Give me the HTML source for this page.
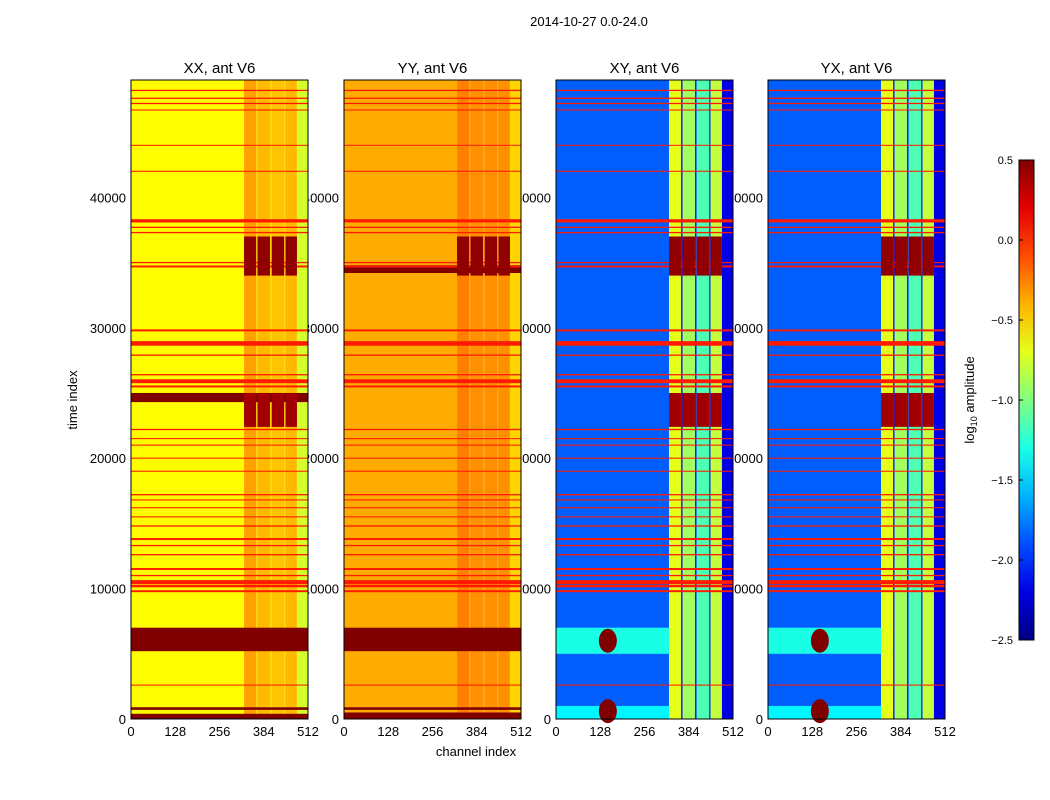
<!DOCTYPE html>
<html><head><meta charset="utf-8">
<style>
body{margin:0;background:#fff;}
svg{display:block;font-family:"Liberation Sans",sans-serif;}
</style></head>
<body>
<svg id="fig" width="1050" height="800" viewBox="0 0 1050 800">
<rect width="1050" height="800" fill="#fff"/>
<text x="589" y="26" font-size="13" text-anchor="middle">2014-10-27 0.0-24.0</text>
<text transform="translate(77,400) rotate(-90)" font-size="13" text-anchor="middle">time index</text>
<text x="476" y="756" font-size="13" text-anchor="middle">channel index</text>
<text transform="translate(974,400) rotate(-90)" font-size="13" text-anchor="middle">log<tspan font-size="9" dy="3">10</tspan><tspan dy="-3"> amplitude</tspan></text>
<g id="labels"></g>
<g id="panels"></g>
<g id="cbar"></g>
</svg>
<script>
// ---- data ----
const panelTitles = ["XX, ant V6","YY, ant V6","XY, ant V6","YX, ant V6"];
const chanEdges = [0,327,362,366,402,407,443,447,480,512];
const baseXX = [-0.62,-0.35,-0.5,-0.42,-0.5,-0.45,-0.5,-0.42,-0.75];
const baseYY = [-0.38,-0.25,-0.35,-0.3,-0.35,-0.3,-0.35,-0.3,-0.5];
const baseXY = [-1.85,-0.7,-2.1,-0.9,-2.0,-1.15,-2.0,-0.8,-2.2];
const baseYX = [-1.85,-0.7,-2.1,-0.9,-2.0,-1.15,-2.0,-0.8,-2.2];
const flagTimes = [48200,47600,47200,46700,44000,42000,38200,37700,37300,35000,34700,29800,28800,27900,26400,25900,25500,22200,21500,21000,20000,19000,17200,16800,16200,15500,14800,13800,13300,12600,11500,11000,10500,10200,9800,2600];
const flagWidths = [100,100,100,80,60,80,250,100,100,100,150,150,350,100,100,300,150,100,80,80,80,80,100,80,80,80,100,150,100,100,150,100,300,200,150,80];
const flagValue = 0.05;
const bandsXX = [[5200,7000],[24300,25000],[0,400],[700,900]];
const bandsYY = [[34200,34800],[5200,7000],[0,500],[700,900]];
const bandsXY = [[5000,7000],[0,1000]];
const bandsXYVal = [-1.3,-1.4];
const spikeChan = [150,150];
const spikeTime = [6000,600];
const blockTimes = [[34000,37000],[22400,25000]];
const blockVals = [0.45,0.4];
const blockChanIdx = [1,3,5,7];
const xTicks = [0,128,256,384,512];
const yTicks = [0,10000,20000,30000,40000];
const cbTicks = [0.5,0.0,-0.5,-1.0,-1.5,-2.0,-2.5];
const vmin=-2.5, vmax=0.5, tMax=49000;

function jet(v){
  let t=(v-vmin)/(vmax-vmin); t=Math.max(0,Math.min(1,t));
  const c=(x)=>Math.round(255*Math.max(0,Math.min(1,x)));
  return `rgb(${c(1.5-Math.abs(4*t-3))},${c(1.5-Math.abs(4*t-2))},${c(1.5-Math.abs(4*t-1))})`;
}
const NS="http://www.w3.org/2000/svg";
function mk(tag,attrs,parent){const e=document.createElementNS(NS,tag);for(const k in attrs)e.setAttribute(k,attrs[k]);parent.appendChild(e);return e;}
const panelX=[131,344,556,768], pw=177, pTop=80, pBot=719;
function yS(t){return pBot-(t/tMax)*(pBot-pTop);}
const labels=document.getElementById('labels'), panels=document.getElementById('panels');
const bases=[baseXX,baseYY,baseXY,baseYX];
panelX.forEach((x0,p)=>{
  const xS=(c)=>x0+c/512*pw;
  yTicks.forEach(t=>{
    const tx=mk('text',{x:x0-5,y:yS(t)+5,'font-size':13,'text-anchor':'end'},labels);
    tx.textContent=t;
    
    
  });
  xTicks.forEach(c=>{
    const tx=mk('text',{x:xS(c),y:736,'font-size':13,'text-anchor':'middle'},labels);
    tx.textContent=c;
    
    
  });
  const g=mk('g',{},panels);
  
  
  const base=bases[p];
  for(let i=0;i<base.length;i++){
    const r=mk('rect',{x:xS(chanEdges[i]),y:pTop,width:xS(chanEdges[i+1])-xS(chanEdges[i]),height:pBot-pTop,fill:jet(base[i])},g);
    
    
  }
  if(p===0||p===1){
    (p===0?bandsXX:bandsYY).forEach(b=>{
      const r=mk('rect',{x:x0,y:yS(b[1]),width:pw,height:yS(b[0])-yS(b[1]),fill:jet(0.5)},g);
      
      
    });
  } else {
    bandsXY.forEach((b,i)=>{
      const r=mk('rect',{x:x0,y:yS(b[1]),width:xS(327)-x0,height:yS(b[0])-yS(b[1]),fill:jet(bandsXYVal[i])},g);
      
      
    });
    spikeChan.forEach((c,i)=>{
      const e=mk('ellipse',{cx:xS(c),cy:yS(spikeTime[i]),rx:9,ry:12,fill:jet(0.5)},g);
      
      
    });
  }
  flagTimes.forEach((t,i)=>{
    const r=mk('rect',{x:x0,y:yS(t+flagWidths[i]/2),width:pw,height:Math.max(1,yS(t)-yS(t+flagWidths[i])),fill:jet(flagValue)},g);
    
    
  });
  blockTimes.forEach((b,bi)=>{
    if(p===1&&bi===1)return;
    blockChanIdx.forEach(ci=>{
      const r=mk('rect',{x:xS(chanEdges[ci]),y:yS(b[1]),width:xS(chanEdges[ci+1])-xS(chanEdges[ci]),height:yS(b[0])-yS(b[1]),fill:jet(blockVals[bi])},g);
      
      
    });
  });
  const fr=mk('rect',{x:x0,y:pTop,width:pw,height:pBot-pTop,fill:'none',stroke:'#000','stroke-width':1},g);
  
  
  const tt=mk('text',{x:x0+pw/2,y:73,'font-size':15,'text-anchor':'middle'},g);
  tt.textContent=panelTitles[p];
  
  
});
// colorbar
const cb=document.getElementById('cbar');
const cbX=1019,cbW=15,cbT=160,cbB=640;
const defs=mk('defs',{},cb);
const lg=mk('linearGradient',{id:'jetg',x1:0,y1:1,x2:0,y2:0},defs);
for(let i=0;i<=10;i++){mk('stop',{offset:i/10,'stop-color':jet(vmin+i/10*(vmax-vmin))},lg);}
const cr=mk('rect',{x:cbX,y:cbT,width:cbW,height:cbB-cbT,fill:'url(#jetg)',stroke:'#000'},cb);


cbTicks.forEach(v=>{
  const y=cbB-(v-vmin)/(vmax-vmin)*(cbB-cbT);
  const tl=mk('line',{x1:cbX,x2:cbX+4,y1:y,y2:y,stroke:'#000'},cb);
  
  
  const tx=mk('text',{x:cbX-6,y:y+4,'font-size':11,'text-anchor':'end'},cb);
  tx.textContent=(v<0?'\u2212':'')+Math.abs(v).toFixed(1);
  
  
});
</script>
</body></html>
